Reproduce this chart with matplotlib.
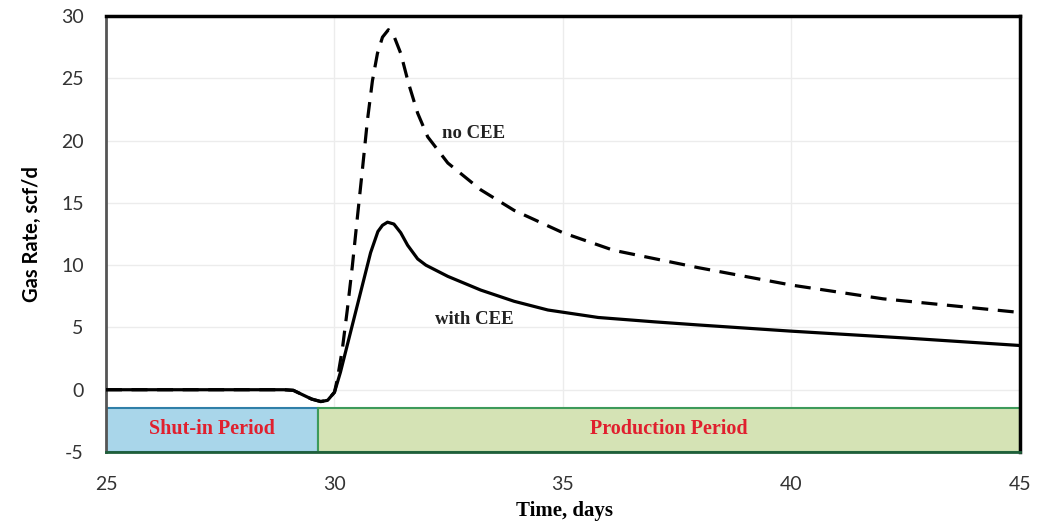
import matplotlib
matplotlib.use("Agg")
import matplotlib.pyplot as plt
from matplotlib.patches import Rectangle

# ---- data ----
with_cee_t = [25.0, 28.9, 29.1, 29.3, 29.5, 29.7, 29.85, 30.0, 30.13, 30.35, 30.57, 30.79,
              30.95, 31.05, 31.16, 31.3, 31.45, 31.6, 31.82, 32.0, 32.48, 33.2,
              33.93, 34.67, 35.77, 37.0, 37.96, 40.0, 42.5, 45.0]
with_cee_q = [0.0, 0.0, -0.05, -0.4, -0.75, -0.95, -0.85, -0.2, 1.4, 4.6, 7.8, 11.0,
              12.7, 13.2, 13.45, 13.3, 12.6, 11.6, 10.5, 10.0, 9.1, 8.0,
              7.1, 6.4, 5.8, 5.45, 5.2, 4.7, 4.15, 3.55]

no_cee_t = [25.0, 28.9, 29.1, 29.3, 29.5, 29.7, 29.85, 30.0, 30.06, 30.17, 30.28, 30.39,
            30.5, 30.62, 30.72, 30.83, 30.94, 31.05, 31.18, 31.3, 31.45, 31.62, 31.82,
            32.04, 32.48, 33.2, 33.93, 35.0, 36.1, 37.96, 40.0, 42.0, 45.0]
no_cee_q = [0.0, 0.0, -0.05, -0.4, -0.75, -0.95, -0.85, -0.2, 0.8, 3.2, 6.4, 9.9,
            13.8, 18.0, 21.6, 24.8, 27.0, 28.3, 28.9, 28.4, 27.0, 24.6, 22.2,
            20.3, 18.2, 16.05, 14.4, 12.6, 11.2, 9.8, 8.4, 7.3, 6.2]

period_labels = ["Shut-in Period", "Production Period"]
period_start = [25.0, 29.65]
period_end = [29.65, 45.0]
period_bottom = -5.0
period_top = -1.45

x_ticks = [25, 30, 35, 40, 45]
y_ticks = [-5, 0, 5, 10, 15, 20, 25, 30]
y_tick_labels = ["-5", "0", "5", "10", "15", "20", "25", "30"]

# ---- figure ----
fig = plt.figure(figsize=(10.37, 5.27), dpi=100)
ax = fig.add_axes([0.1022, 0.1423, 0.8814, 0.8273])

ax.set_xlim(25, 45)
ax.set_ylim(-5, 30)
ax.set_xticks(x_ticks)
ax.set_yticks(y_ticks)
ax.set_yticklabels(y_tick_labels)
ax.tick_params(length=0, labelsize=14, colors="#333333")
ax.tick_params(axis="x", pad=17)
ax.tick_params(axis="y", pad=16)
for lbl in ax.get_xticklabels() + ax.get_yticklabels():
    lbl.set_family("Lato")

ax.grid(True, color="#ececec", linewidth=1.0)
ax.set_axisbelow(True)

for side in ["top", "right"]:
    ax.spines[side].set_linewidth(2.5)
    ax.spines[side].set_color("black")
ax.spines["left"].set_linewidth(2.0)
ax.spines["left"].set_color("#555555")
ax.spines["bottom"].set_linewidth(2.0)
ax.spines["bottom"].set_color("#1f5f3a")

# period boxes
face = ["#a9d6ea", "#d5e3b5"]
edge = ["#2f7fa8", "#3d9a5a"]
for i, lab in enumerate(period_labels):
    ax.add_patch(Rectangle((period_start[i], period_bottom),
                           period_end[i] - period_start[i], period_top - period_bottom,
                           facecolor=face[i], edgecolor=edge[i], linewidth=1.5, zorder=2))
    ax.text((period_start[i] + period_end[i]) / 2, (period_bottom + period_top) / 2 + 0.1,
            lab, ha="center", va="center", color="#e0202e", fontsize=14.5,
            fontweight="bold", family="Liberation Serif", zorder=3)

ax.plot(with_cee_t, with_cee_q, color="black", linewidth=2.3, zorder=4,
        solid_joinstyle="round")
ax.plot(no_cee_t, no_cee_q, color="black", linewidth=2.3, linestyle=(0, (5, 3)),
        zorder=4)

ax.text(33.05, 20.6, "no CEE", ha="center", va="center", fontsize=13.5,
        fontweight="bold", family="Liberation Serif", color="#222222", zorder=5)
ax.text(33.05, 5.6, "with CEE", ha="center", va="center", fontsize=13.5,
        fontweight="bold", family="Liberation Serif", color="#222222", zorder=5)

fig.text(0.5445, 0.030, "Time, days", ha="center", va="center", fontsize=15,
         fontweight="bold", family="Liberation Serif")
ax.set_ylabel("Gas Rate, scf/d", fontsize=14.5, fontweight="bold",
              family="Lato", labelpad=14)

fig.savefig("out.png", dpi=100)
